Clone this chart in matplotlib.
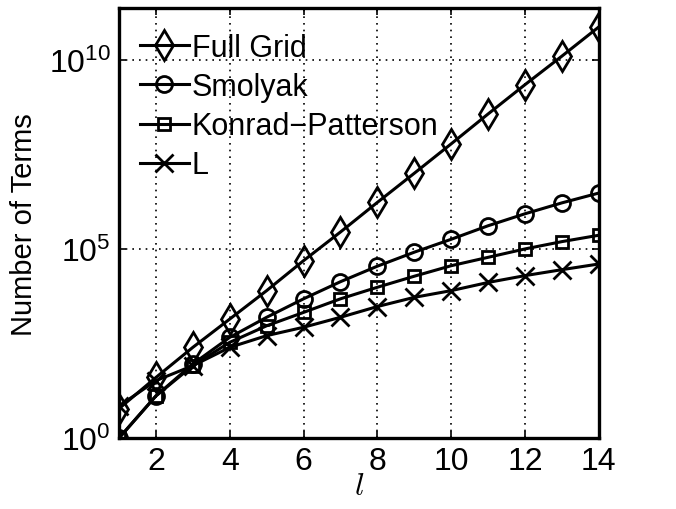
import numpy as np
import matplotlib.pyplot as plt
from matplotlib.ticker import FixedLocator, FixedFormatter

plt.rcParams['font.family'] = ['Liberation Sans', 'DejaVu Sans']
plt.rcParams['mathtext.fontset'] = 'custom'
plt.rcParams['mathtext.rm'] = 'Liberation Sans'
plt.rcParams['mathtext.it'] = 'Liberation Sans:italic'

# Data
levels = np.arange(1, 15)
full_grid = [6, 40, 250, 1400, 7900, 4.9e4, 2.8e5, 1.7e6, 1.0e7, 6.0e7, 3.7e8, 2.2e9, 1.25e10, 7.4e10]
smolyak = [1, 13, 91, 460, 1560, 4800, 13600, 35000, 82000, 1.8e5, 4.1e5, 8.5e5, 1.65e6, 3.0e6]
konrad_patterson = [1, 13, 82, 340, 930, 2100, 4800, 9700, 19000, 36000, 60000, 1.0e5, 1.56e5, 2.3e5]
l_terms = [7, 33, 82, 250, 510, 850, 1560, 3000, 5250, 7900, 13000, 19700, 28300, 40000]

series = [
    (full_grid, 'd', 15, 'Full Grid'),
    (smolyak, 'o', 11.5, 'Smolyak'),
    (konrad_patterson, 's', 9, 'Konrad\u2212Patterson'),
    (l_terms, 'x', 12.5, 'L'),
]

x_ticks = [2, 4, 6, 8, 10, 12, 14]
y_ticks = [1, 1e5, 1e10]
y_labels = ['$10^{0}$', '$10^{5}$', '$10^{10}$']

fig = plt.figure(figsize=(6.76, 5.1), dpi=100)
ax = fig.add_axes([0.176, 0.139, 0.710, 0.843])

for vals, mk, size, name in series:
    ax.plot(levels, vals, color='black', linewidth=2.2, marker=mk,
            markersize=size, markerfacecolor='none', markeredgecolor='black',
            markeredgewidth=2.0, label=name)

ax.set_yscale('log')
ax.set_xlim(1, 14)
ax.set_ylim(1, 2.3e11)

ax.xaxis.set_major_locator(FixedLocator(x_ticks))
ax.yaxis.set_major_locator(FixedLocator(y_ticks))
ax.yaxis.set_major_formatter(FixedFormatter(y_labels))
ax.yaxis.set_minor_locator(FixedLocator([]))

ax.tick_params(axis='both', which='major', direction='in', length=5, width=1.2,
               labelsize=23, top=True, right=True, pad=6)
ax.grid(True, which='major', color='black', linestyle=(0, (1, 3)), linewidth=1.2)

for sp in ax.spines.values():
    sp.set_linewidth(2.4)

ax.set_xlabel('$l$', fontsize=23, math_fontfamily='cm', labelpad=-4)
ax.set_ylabel('Number of Terms', fontsize=21, labelpad=8)

ax.legend(loc='upper left', bbox_to_anchor=(0.005, 0.985), frameon=False,
          fontsize=22, handlelength=1.6, handletextpad=0.1,
          labelspacing=0.3, borderaxespad=0.2)

fig.savefig('out.png', dpi=100)
